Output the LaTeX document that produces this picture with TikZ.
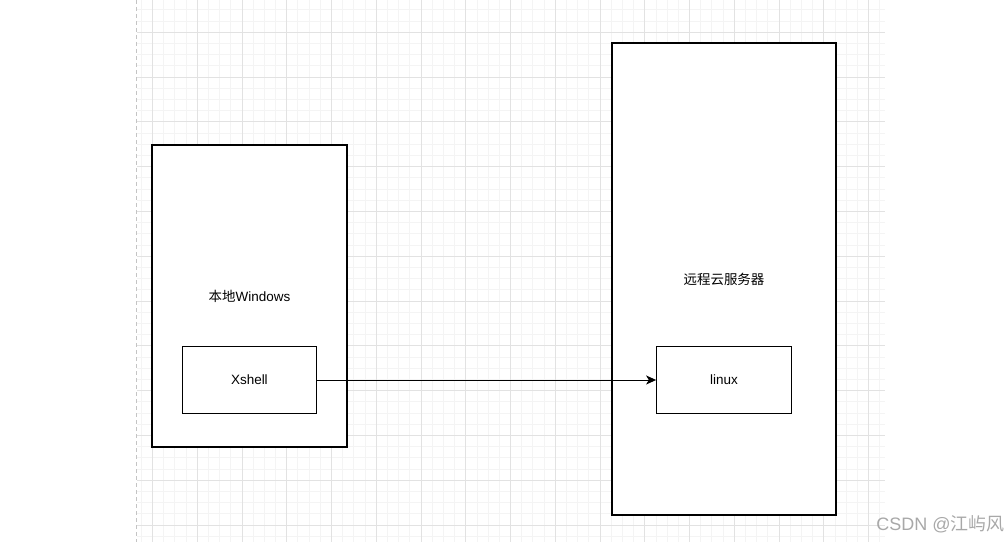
\documentclass[tikz,border=0pt]{standalone}
\usepackage{fontspec}
\setmainfont{Liberation Sans}
\newfontfamily\cjk{Noto Sans CJK SC}
\usepackage{tikz}
\usetikzlibrary{arrows.meta, positioning}

\definecolor{gridminor}{HTML}{F4F4F4}
\definecolor{gridmajor}{HTML}{E2E2E2}
\definecolor{pageedge}{HTML}{C4C4C4}
\definecolor{markgray}{HTML}{A8A8A8}

\begin{document}
\begin{tikzpicture}[
        x=0.75pt, y=-0.75pt,
        container/.style={rectangle, draw, line width=0.8pt, fill=white, inner sep=0pt, font=\fontsize{10.1}{12}\selectfont},
        box/.style={rectangle, draw, line width=0.8pt, fill=white, inner sep=0pt, minimum width=101pt, minimum height=50.25pt, font=\fontsize{10.1}{12}\selectfont},
        arrow/.style={-{Stealth[length=7.5pt, width=6.75pt, inset=2pt]}, line width=0.75pt}
    ]
        \useasboundingbox (0,0) rectangle (1008,542);

        % Grid
        \foreach \i in {0,...,66}
            \draw[gridminor, line width=0.75pt] ({141.3+11.19*\i},0) -- ({141.3+11.19*\i},542);
        \foreach \j in {0,...,47}
            \draw[gridminor, line width=0.75pt] (137,{9.9+11.2*\j}) -- (885,{9.9+11.2*\j});
        \foreach \i in {0,...,16}
            \draw[gridmajor, line width=0.75pt] ({152.5+44.76*\i},0) -- ({152.5+44.76*\i},542);
        \foreach \j in {0,...,11}
            \draw[gridmajor, line width=0.75pt] (137,{32.3+44.8*\j}) -- (885,{32.3+44.8*\j});
        \draw[pageedge, line width=0.75pt, dash pattern=on 3pt off 2.25pt] (136.5,0) -- (136.5,542);

        % Local Windows
        \node[container, minimum width=146.25pt, minimum height=226.5pt] (local) at (249.5,296) {{\cjk 本地}Windows};
        \node[box] (xshell) at (249.4,380) {Xshell};

        % Remote cloud server
        \node[container, minimum width=168pt, minimum height=354pt] (remote) at (724,279) {{\cjk 远程云服务器}};
        \node[box] (linux) at (724,380) {linux};

        % Connection
        \draw[arrow] (xshell.east) -- (linux.west);

        % Watermark
        \node[anchor=east, text=markgray, font=\fontsize{13.5}{15}\selectfont, inner sep=0pt] (mark) at (1005,524) {CSDN @{\cjk 江屿风}};
    \end{tikzpicture}
\end{document}
